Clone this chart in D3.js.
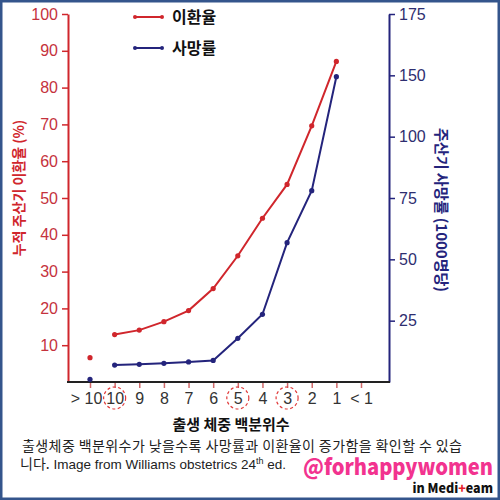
<!DOCTYPE html>
<html>
<head>
<meta charset="utf-8">
<script src="https://cdn.jsdelivr.net/npm/d3@7/dist/d3.min.js"></script>
<style>
  html, body { margin: 0; padding: 0; background: #fff; }
  svg { display: block; }
  .kr { font-family: "Noto Sans CJK KR", "Noto Sans", sans-serif; }
  .num { font-family: "Liberation Sans", Arial, sans-serif; }
</style>
</head>
<body>
<div id="chart"></div>
<script>
// 출생 체중 백분위수 카테고리
const categories = ['> 10', '10', '9', '8', '7', '6', '5', '4', '3', '2', '1', '< 1'];
// 누적 주산기 이환율 (%)
const morbidity = [6.6, 12.9, 14.1, 16.4, 19.4, 25.4, 34.3, 44.5, 53.7, 69.6, 87.1, null];
// 주산기 사망률 (1000명당) - 오른쪽 축 눈금 기준으로 읽은 값
const mortality = [1.1, 6.9, 7.2, 7.6, 8.2, 8.8, 17.8, 27.6, 56.8, 78, 148.9, null];
const leftTicks = [10, 20, 30, 40, 50, 60, 70, 80, 90, 100];
// 원본 그림의 오른쪽 축은 125 눈금 없이 같은 간격으로 찍혀 있음
const rightTicks = [0, 25, 50, 75, 100, 150, 175];
const circled = ['10', '5', '3'];

const W = 500, H = 500;
const RED = '#d0262c', NAVY = '#24247c';

const svg = d3.select('#chart').append('svg')
    .attr('width', W).attr('height', H);

svg.append('rect').attr('width', W).attr('height', H).attr('fill', '#fff');

// 스케일
const x = d3.scalePoint().domain(categories).range([90, 361]);
const yL = d3.scaleLinear().domain([0, 100]).range([382, 14]);
const yR = d3.scaleLinear().domain(rightTicks)
    .range(rightTicks.map((d, i) => 382 - i * 368 / (rightTicks.length - 1)));

// 왼쪽 축
const gL = svg.append('g').attr('transform', 'translate(68,0)')
    .call(d3.axisLeft(yL).tickValues(leftTicks).tickSize(6).tickSizeOuter(0).tickPadding(4));
gL.select('.domain').attr('stroke', RED).attr('stroke-width', 2);
gL.selectAll('.tick line').attr('stroke', RED).attr('stroke-width', 1.5);
gL.selectAll('.tick text').attr('class', 'num').attr('fill', '#c5323d')
    .style('font-size', '16px');

// 오른쪽 축
const gR = svg.append('g').attr('transform', 'translate(389,0)')
    .call(d3.axisRight(yR).tickValues(rightTicks.slice(1)).tickSize(6).tickSizeOuter(0).tickPadding(4));
gR.select('.domain').attr('stroke', NAVY).attr('stroke-width', 2);
gR.selectAll('.tick line').attr('stroke', NAVY).attr('stroke-width', 1.5);
gR.selectAll('.tick text').attr('class', 'num').attr('fill', '#2e2e70')
    .style('font-size', '16px');

// 아래 축
const gX = svg.append('g').attr('transform', 'translate(0,382)')
    .call(d3.axisBottom(x).tickSize(6).tickSizeOuter(0).tickPadding(5));
gX.select('.domain').remove();
gX.selectAll('.tick line').attr('stroke', '#d06a6a').attr('stroke-width', 1.5);
gX.selectAll('.tick text').attr('class', 'num').attr('fill', '#333')
    .attr('dx', d => d === '> 10' ? -4 : 0)
    .style('font-size', '16px');
svg.append('line')
    .attr('x1', 67).attr('x2', 390).attr('y1', 382).attr('y2', 382)
    .attr('stroke', '#222').attr('stroke-width', 2);

// 점선 원
svg.selectAll('.ring').data(circled).enter().append('circle')
    .attr('class', 'ring')
    .attr('cx', d => x(d)).attr('cy', 398).attr('r', 11)
    .attr('fill', 'none').attr('stroke', '#e03a3a')
    .attr('stroke-width', 1.2).attr('stroke-dasharray', '3,2.5');

// 선 그리기 (> 10 은 따로 떨어진 점)
function drawSeries(values, y, color) {
    const pts = categories.map((c, i) => ({ c, v: values[i], i }))
        .filter(d => d.v != null);
    const linePts = pts.filter(d => d.i > 0);
    svg.append('path').datum(linePts)
        .attr('fill', 'none').attr('stroke', color).attr('stroke-width', 2)
        .attr('d', d3.line().x(d => x(d.c)).y(d => y(d.v)));
    svg.selectAll(null).data(pts).enter().append('circle')
        .attr('cx', d => x(d.c)).attr('cy', d => y(d.v)).attr('r', 2.6)
        .attr('fill', color);
}
drawSeries(morbidity, yL, RED);
drawSeries(mortality, yR, NAVY);

// 범례
const legend = [
    { label: '이환율', color: RED, y: 17 },
    { label: '사망률', color: NAVY, y: 48 }
];
legend.forEach(d => {
    svg.append('line').attr('x1', 135).attr('x2', 162)
        .attr('y1', d.y).attr('y2', d.y)
        .attr('stroke', d.color).attr('stroke-width', 2);
    [135, 162].forEach(cx => svg.append('circle')
        .attr('cx', cx).attr('cy', d.y).attr('r', 2).attr('fill', d.color));
    svg.append('text').attr('class', 'kr')
        .attr('x', 172).attr('y', d.y).attr('dy', '0.36em')
        .style('font-size', '16px').style('font-weight', 'bold')
        .attr('fill', '#111').text(d.label);
});

// 축 제목
svg.append('text').attr('class', 'kr')
    .attr('transform', 'translate(19,188) rotate(-90)')
    .attr('text-anchor', 'middle').attr('dy', '0.36em')
    .style('font-size', '14px').style('font-weight', 'bold')
    .attr('fill', RED).text('누적 주산기 이환율 (%)');

svg.append('text').attr('class', 'kr')
    .attr('transform', 'translate(441,210) rotate(90)')
    .attr('text-anchor', 'middle').attr('dy', '0.36em')
    .style('font-size', '15px').style('font-weight', 'bold')
    .attr('fill', NAVY).text('주산기 사망률 (1000명당)');

svg.append('text').attr('class', 'kr')
    .attr('x', 231).attr('y', 425).attr('dy', '0.36em')
    .attr('text-anchor', 'middle')
    .style('font-size', '15px').style('font-weight', 'bold')
    .attr('fill', '#111').text('출생 체중 백분위수');

// 캡션
svg.append('text').attr('class', 'kr')
    .attr('x', 22).attr('y', 446).attr('dy', '0.36em')
    .attr('textLength', 440).attr('lengthAdjust', 'spacing')
    .style('font-size', '14px').attr('fill', '#222')
    .text('출생체중 백분위수가 낮을수록 사망률과 이환율이 증가함을 확인할 수 있습');
const cap2 = svg.append('text').attr('class', 'kr')
    .attr('x', 20).attr('y', 464).attr('dy', '0.36em')
    .style('font-size', '14px').attr('fill', '#222');
cap2.append('tspan').text('니다.');
cap2.append('tspan').attr('class', 'num').style('font-size', '13.5px')
    .text(' Image from Williams obstetrics 24');
cap2.append('tspan').attr('class', 'num').attr('dy', '-5').style('font-size', '9px').text('th');
cap2.append('tspan').attr('class', 'num').attr('dy', '5').style('font-size', '13.5px').text(' ed.');

// 워터마크
svg.append('text').attr('class', 'kr')
    .attr('x', 303).attr('y', 467).attr('dy', '0.36em')
    .attr('textLength', 190).attr('lengthAdjust', 'spacingAndGlyphs')
    .style('font-size', '22px').style('font-weight', '900')
    .attr('fill', '#f2338f').text('@forhappywomen');
const wm = svg.append('text').attr('class', 'kr')
    .attr('x', 493).attr('y', 488).attr('dy', '0.36em')
    .attr('text-anchor', 'end')
    .style('font-size', '12.5px').style('font-weight', '900')
    .attr('fill', '#111');
wm.append('tspan').text('in Medi');
wm.append('tspan').attr('fill', '#e8202a').text('+');
wm.append('tspan').text('eam');

// 테두리
svg.append('rect').attr('x', 1).attr('y', 1).attr('width', W - 2).attr('height', H - 2)
    .attr('fill', 'none').attr('stroke', '#34558c').attr('stroke-width', 3);
</script>
</body>
</html>
